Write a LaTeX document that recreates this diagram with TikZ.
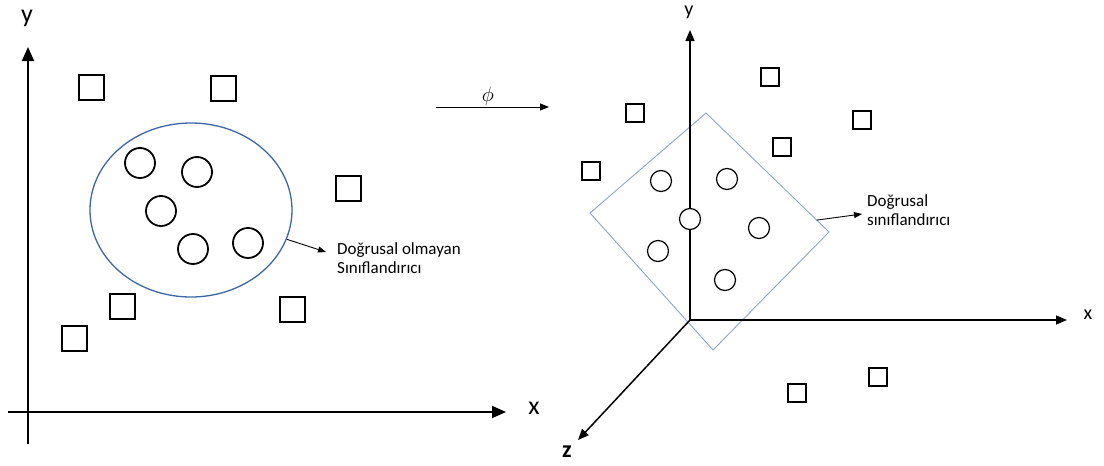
\documentclass[tikz,border=0pt]{standalone}
\usepackage{fontspec}
\setmainfont{Carlito}
\usetikzlibrary{arrows.meta,shapes.geometric,calc}
\definecolor{ellblue}{RGB}{62,102,162}
\definecolor{planeblue}{RGB}{140,165,200}
\begin{document}
\begin{tikzpicture}[x=1pt,y=-1pt,
  sqL/.style={draw, line width=2pt, minimum size=25pt, inner sep=0pt},
  ciL/.style={draw, circle, line width=1.8pt, minimum size=30pt, inner sep=0pt},
  sqR/.style={draw, line width=1.2pt, minimum size=18pt, inner sep=0pt},
  ciR/.style={draw, circle, line width=1.2pt, minimum size=21pt, inner sep=0pt},
  axisL/.style={line width=1.8pt, -{Triangle[length=14pt,width=12pt]}},
  axisR/.style={line width=1.5pt, -{Triangle[length=11pt,width=9pt]}},
  pointer/.style={line width=0.9pt, -{Triangle[length=8pt,width=6pt]}},
  lbl/.style={font=\fontsize{17}{19}\selectfont, align=left, anchor=north west, inner sep=0pt},
  axlabL/.style={font=\fontsize{26}{26}\selectfont, inner sep=0pt},
  axlabR/.style={font=\fontsize{20}{20}\selectfont, inner sep=0pt}
]
\useasboundingbox (0,0) rectangle (1104,466);

% ---------- left: input space ----------
\coordinate (Lybot) at (28,444);
\coordinate (Lytop) at (28,47);
\coordinate (Lxleft) at (8,412);
\coordinate (Lxtip) at (506,412);
\draw[axisL] (Lybot) -- (Lytop);
\draw[axisL] (Lxleft) -- (Lxtip);
\node[axlabL] (Lylab) at (27,18) {y};
\node[axlabL] (Lxlab) at (534,408) {x};

\node[sqL] (ls1) at (91,87) {};
\node[sqL] (ls2) at (223,88) {};
\node[sqL] (ls3) at (348,188) {};
\node[sqL] (ls4) at (122,306) {};
\node[sqL] (ls5) at (292,309) {};
\node[sqL] (ls6) at (74,338) {};

\node[draw=ellblue, ellipse, line width=1.3pt, minimum width=202pt, minimum height=174pt, inner sep=0pt] (ell) at (191,210) {};

\node[ciL] (lc1) at (140,163) {};
\node[ciL] (lc2) at (197,172) {};
\node[ciL] (lc3) at (161,211) {};
\node[ciL] (lc4) at (193,249) {};
\node[ciL] (lc5) at (248,243) {};

\coordinate (Ltip) at (326,252);
\draw[pointer] (ell.-17) -- (Ltip);
\node[lbl] (Ltext) at (337,242) {Doğrusal olmayan\\Sınıflandırıcı};

% ---------- feature map ----------
\coordinate (phiA) at (436,107);
\coordinate (phiB) at (549,107);
\draw[line width=0.9pt, -{Triangle[length=9pt,width=7pt]}] (phiA) -- (phiB);
\node[font=\fontsize{20}{20}\selectfont, inner sep=0pt] (phi) at (488,96) {$\phi$};

% ---------- right: feature space ----------
\coordinate (O) at (690,320);
\coordinate (Rytop) at (690,30);
\coordinate (Rxtip) at (1067,320);
\coordinate (Rztip) at (578,440);

% separating plane
\coordinate (P1) at (706,113);
\coordinate (P2) at (829,232);
\coordinate (P3) at (713,350);
\coordinate (P4) at (590,213);
\draw[planeblue, line width=0.9pt] (P1) -- (P2) -- (P3) -- (P4) -- cycle;

\draw[axisR] (O) -- (Rytop);
\draw[axisR] (O) -- (Rxtip);
\draw[axisR] (O) -- (Rztip);
\node[axlabR] (Rylab) at (689,12) {y};
\node[axlabR] (Rxlab) at (1088,315) {x};
\node[font=\bfseries\fontsize{24}{24}\selectfont, inner sep=0pt] (Rzlab) at (567,452) {z};

\node[sqR] (rs1) at (770,77) {};
\node[sqR] (rs2) at (635,113) {};
\node[sqR] (rs3) at (862,120) {};
\node[sqR] (rs4) at (782,147) {};
\node[sqR] (rs5) at (591,171) {};
\node[sqR] (rs6) at (878,377) {};
\node[sqR] (rs7) at (797,393) {};

\node[ciR, fill=white] (rc1) at (661,181) {};
\node[ciR, fill=white] (rc2) at (727,179) {};
\node[ciR, fill=white] (rc3) at (690,219) {};
\node[ciR, fill=white] (rc4) at (658,251) {};
\node[ciR, fill=white] (rc5) at (759,228) {};
\node[ciR, fill=white] (rc6) at (725,280) {};

\coordinate (Rtip) at (862,214);
\draw[pointer] ($(P1)!0.9!(P2)$) -- (Rtip);
\node[lbl] (Rtext) at (867,194) {Doğrusal\\sınıflandırıcı};

\end{tikzpicture}
\end{document}
